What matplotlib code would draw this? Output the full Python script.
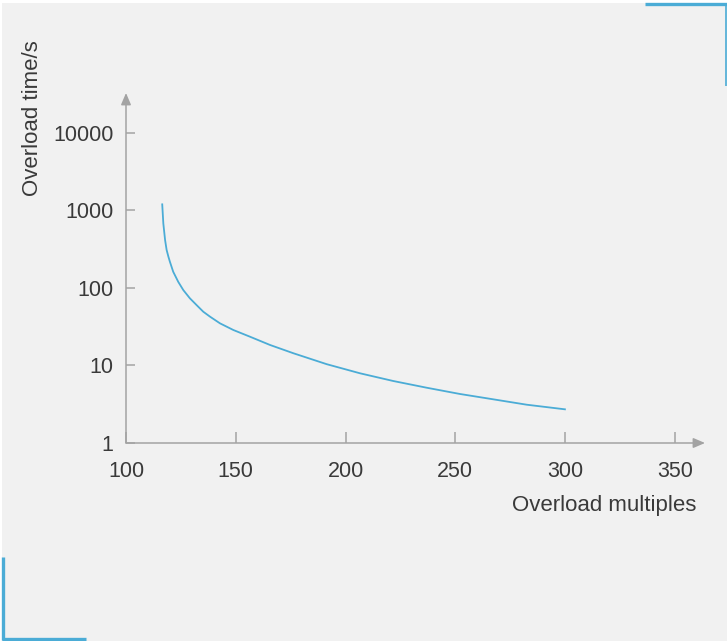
import matplotlib.pyplot as plt
from matplotlib.lines import Line2D
from matplotlib.patches import Rectangle

plt.rcParams['font.family'] = ['Liberation Sans', 'DejaVu Sans']

# overload curve
multiples = [116.5, 117.0, 117.8, 118.5, 119.3, 120.0, 121.5, 123.8, 126.1,
             129.1, 132.2, 135.2, 138.3, 142.8, 148.9, 156.5, 165.6, 176.2,
             191.4, 206.6, 221.7, 236.9, 252.1, 267.3, 282.5, 299.9]
overload_time = [1200, 680, 416, 310, 254, 218, 162, 120, 94,
                 73.6, 60, 49.4, 42.6, 35, 28.7, 23.5, 18.4, 14.4,
                 10.4, 7.93, 6.31, 5.17, 4.29, 3.66, 3.12, 2.72]
x_ticks = [100, 150, 200, 250, 300, 350]
y_ticks = [1, 10, 100, 1000, 10000]
y_tick_labels = ["1", "10", "100", "1000", "10000"]

W, H = 727, 641
axis_col = "#a3a3a3"
text_col = "#3a3a3a"
blue = "#4bacd6"
fs = 15.5

fig = plt.figure(figsize=(W / 100, H / 100), dpi=100, facecolor="white")

# gray panel
fig.add_artist(Rectangle((2 / W, 0), 1, 1 - 3 / H, transform=fig.transFigure,
                         facecolor="#f1f1f1", edgecolor="none", zorder=0))

# blue corner marks
def fline(xs, ys, lw):
    fig.add_artist(Line2D([x / W for x in xs], [1 - y / H for y in ys],
                          transform=fig.transFigure, color=blue, lw=lw,
                          solid_capstyle="butt"))

fline([645, 727], [4, 4], 2.4)
fline([726, 726], [3, 86], 1.2)
fline([3, 3], [557, 640], 2.4)
fline([2, 86], [639, 639], 2.4)

left, right = 126 / W, 705 / W
bottom, top = 1 - 443 / H, 1 - 93 / H
ax = fig.add_axes([left, bottom, right - left, top - bottom])
ax.set_facecolor("none")

ax.plot(multiples, overload_time, color=blue, lw=1.3)

ax.set_yscale("log")
ax.set_xlim(100, 363.7)
ax.set_ylim(1, 10 ** 4.516)
ax.set_xticks(x_ticks)
ax.set_yticks(y_ticks)
ax.set_yticklabels(y_tick_labels)
ax.minorticks_off()

for s in ax.spines.values():
    s.set_visible(False)

ax.tick_params(axis="x", direction="in", length=8, width=1.1, color=axis_col,
               labelsize=fs, labelcolor=text_col, pad=13)
ax.tick_params(axis="y", direction="in", length=6.5, width=1.1, color=axis_col,
               labelsize=fs, labelcolor=text_col, pad=9)

arrow = dict(arrowstyle="-|>,head_length=0.7,head_width=0.3", color=axis_col,
             lw=1.1, shrinkA=0, shrinkB=0)
ax.annotate("", xy=(1, 0), xytext=(0, 0), xycoords="axes fraction",
            arrowprops=arrow)
ax.annotate("", xy=(0, 1), xytext=(0, 0), xycoords="axes fraction",
            arrowprops=arrow)

fig.text(696 / W, 1 - 505 / H, "Overload multiples", ha="right", va="center",
         fontsize=16, color=text_col)
fig.text(33 / W, 1 - 118 / H, "Overload time/s", ha="center", va="center",
         rotation=90, fontsize=16, color=text_col)

fig.savefig("out.png", dpi=100, facecolor="white")
